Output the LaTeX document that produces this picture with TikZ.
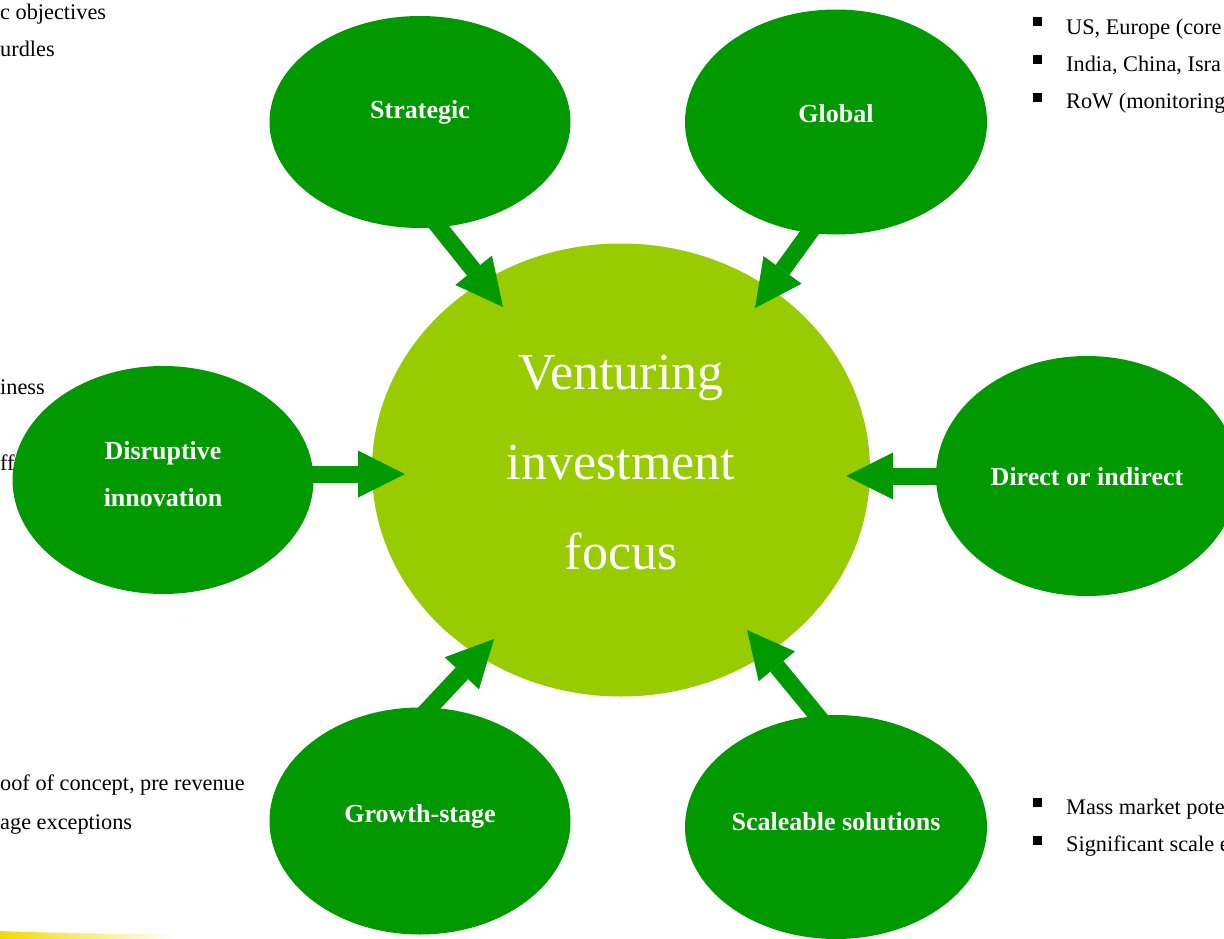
\documentclass[tikz,border=0pt]{standalone}
\usepackage{fontspec}
\setmainfont{Liberation Serif}
\usetikzlibrary{shapes.geometric,arrows.meta}
\definecolor{dgreen}{RGB}{0,153,0}
\definecolor{lgreen}{RGB}{153,204,0}
\definecolor{swoosh}{RGB}{240,220,0}
\begin{document}
\begin{tikzpicture}[x=1pt,y=-1pt,
  bubble/.style={ellipse, fill=dgreen, inner sep=0pt},
  lbl/.style={inner sep=0pt, text=white,
    font=\fontsize{26}{47}\selectfont\bfseries, align=center},
  side/.style={anchor=base west, inner sep=0pt, font=\fontsize{22.3}{24}\selectfont, text=black},
  bul/.style={fill=black, minimum size=9pt, inner sep=0pt},
  link/.style={draw=dgreen, line width=17pt,
    -{Triangle[length=47pt,width=47pt,line width=0pt]}}
]
\useasboundingbox (0,0) rectangle (1224,939);
\clip (0,0) rectangle (1224,939);
\fill[white] (0,0) rectangle (1224,939);

% background side texts
\node[side] (t1) at (0,20) {c objectives};
\node[side] (t2) at (0,57) {urdles};
\node[side] (t3) at (0,394) {iness};
\node[side] (t4) at (0,470) {ff};
\node[side] (t5) at (0,790) {oof of concept, pre revenue};
\node[side] (t6) at (0,829) {age exceptions};

\node[bul] (b1) at (1037,22) {};
\node[bul] (b2) at (1037,60) {};
\node[bul] (b3) at (1037,98) {};
\node[side] (r1) at (1066,35) {US, Europe (core};
\node[side] (r2) at (1066,72) {India, China, Isra};
\node[side] (r3) at (1066,109) {RoW (monitoring};
\node[bul] (b4) at (1037,802) {};
\node[bul] (b5) at (1037,840) {};
\node[side] (r4) at (1066,814) {Mass market pote};
\node[side] (r5) at (1066,851) {Significant scale e};

% swoosh
\shade[left color=swoosh, right color=white]
  (0,931) .. controls (50,933) and (110,934) .. (175,934)
  -- (175,939) -- (0,939) -- cycle;

% central ellipse
\node[ellipse, fill=lgreen, minimum width=498pt, minimum height=453pt, inner sep=0pt] (core) at (621,470) {};
\node[text=white, align=center, inner sep=0pt, font=\fontsize{52}{90}\selectfont] (ctext) at (621,463)
  {Venturing\\investment\\focus};

% outer bubbles
\node[bubble, minimum width=301pt, minimum height=212pt] (strat) at (420,122) {};
\node[bubble, minimum width=302pt, minimum height=225pt] (glob) at (836,122) {};
\node[bubble, minimum width=301pt, minimum height=228pt] (disr) at (163,480) {};
\node[bubble, minimum width=302pt, minimum height=240pt] (dir) at (1087,476) {};
\node[bubble, minimum width=301pt, minimum height=227pt] (grow) at (420,821) {};
\node[bubble, minimum width=302pt, minimum height=224pt] (scal) at (836,827) {};

\node[lbl] (lstrat) at (420,112) {Strategic};
\node[lbl] (lglob) at (836,114) {Global};
\node[lbl] (ldisr) at (163,474) {Disruptive\\innovation};
\node[lbl] (ldir) at (1087,477) {Direct or indirect};
\node[lbl] (lgrow) at (420,816) {Growth-stage};
\node[lbl] (lscal) at (836,822) {Scaleable solutions};

% arrow endpoints
\coordinate (sA) at (435,222);  \coordinate (sB) at (503,307);
\coordinate (gA) at (815,225);  \coordinate (gB) at (755,308);
\coordinate (dA) at (300,474);  \coordinate (dB) at (405,474);
\coordinate (iA) at (945,476);  \coordinate (iB) at (846,476);
\coordinate (wA) at (420,718);  \coordinate (wB) at (494,639);
\coordinate (cA) at (825,725);  \coordinate (cB) at (747,630);

\draw[link] (sA) -- (sB);
\draw[link] (gA) -- (gB);
\draw[link] (dA) -- (dB);
\draw[link] (iA) -- (iB);
\draw[link] (wA) -- (wB);
\draw[link] (cA) -- (cB);
\end{tikzpicture}
\end{document}
